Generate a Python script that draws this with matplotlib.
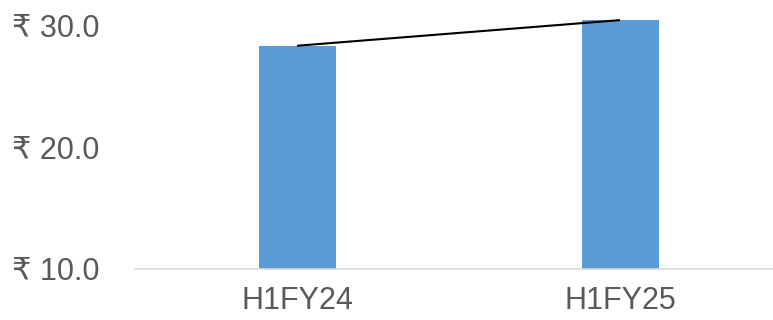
import matplotlib
matplotlib.use("Agg")
import matplotlib.pyplot as plt

categories = ["H1FY24", "H1FY25"]
values = [28.3, 30.4]
yticks = [10.0, 20.0, 30.0]
ytick_labels = ["₹ 10.0", "₹ 20.0", "₹ 30.0"]

fig = plt.figure(figsize=(7.73, 3.2), dpi=100)
W, H = 773, 320
left_px, right_px = 135.5, 781.5
bottom_px, top_px = 269, 0
ax = fig.add_axes([left_px / W, (H - bottom_px) / H, (right_px - left_px) / W, (bottom_px - top_px) / H])

x = list(range(len(categories)))
ax.bar(x, values, width=77 / 323, color="#5B9BD5", bottom=0, zorder=2)
ax.plot(x, values, color="black", linewidth=1.5, zorder=3, solid_capstyle="butt")

ax.set_xlim(-0.5, 1.5)
ax.set_ylim(10, 32.05)
ax.set_yticks(yticks)
ax.set_yticklabels(ytick_labels)
ax.set_xticks(x)
ax.set_xticklabels(categories)

fam = ["Liberation Sans", "DejaVu Sans"]
for lab in ax.get_yticklabels() + ax.get_xticklabels():
    lab.set_fontfamily(fam)
    lab.set_fontsize(22)
    lab.set_color("#595959")

for s in ["top", "right", "left"]:
    ax.spines[s].set_visible(False)
ax.spines["bottom"].set_color("#D9D9D9")
ax.spines["bottom"].set_linewidth(1.2)
ax.tick_params(axis="both", length=0)
ax.tick_params(axis="y", pad=26)
ax.tick_params(axis="x", pad=12)

fig.savefig("out.png", dpi=100)
